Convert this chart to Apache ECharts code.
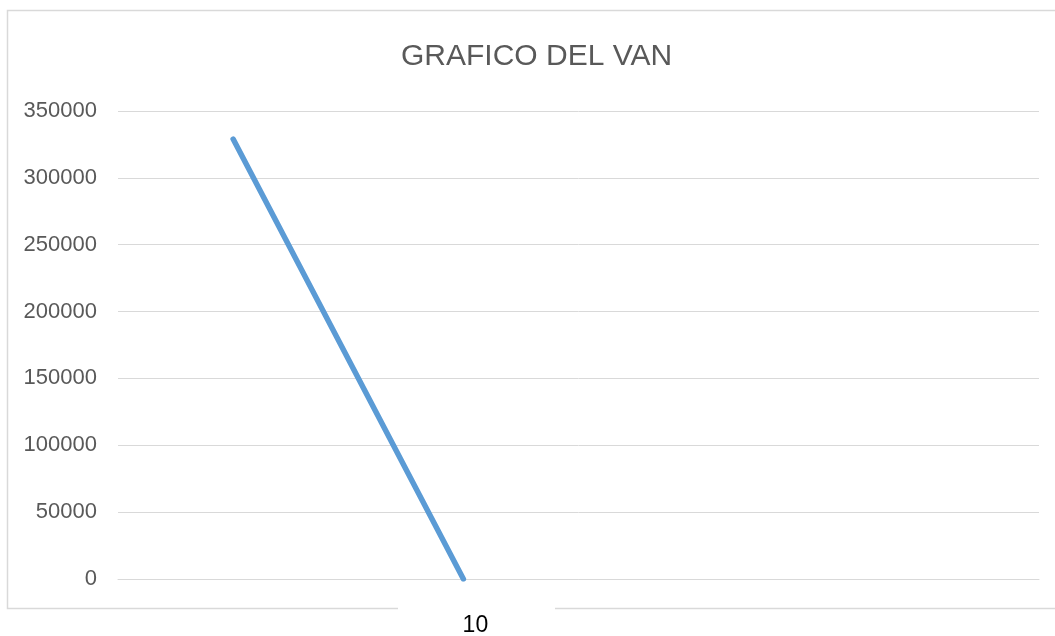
<!DOCTYPE html>
<html>
<head>
<meta charset="utf-8">
<script src="https://cdn.jsdelivr.net/npm/echarts@6/dist/echarts.min.js"></script>
<style>
  html, body { margin: 0; padding: 0; background: #fff; }
  #chart { width: 1055px; height: 636px; }
</style>
</head>
<body>
<div id="chart"></div>
<script>
// datos del grafico
const categorias = ['', '10', '', ''];
const valoresVan = [329000, 0, null, null];
const yMin = 0;
const yMax = 350000;
const yPaso = 50000;

const chart = echarts.init(document.getElementById('chart'));

const option = {
  animation: false,
  title: {
    text: 'GRAFICO DEL VAN',
    left: 396,
    top: 37,
    textStyle: {
      fontFamily: 'Liberation Sans',
      fontSize: 30,
      fontWeight: 'normal',
      color: '#595959'
    }
  },
  grid: {
    left: 118,
    right: 16,
    top: 111,
    bottom: 57,
    outerBoundsMode: 'none'
  },
  // marco del grafico, con el hueco bajo la etiqueta
  graphic: [
    {
      type: 'rect',
      z: -10,
      shape: { x: 7.5, y: 10.5, width: 1060, height: 598 },
      style: { fill: 'none', stroke: '#d9d9d9', lineWidth: 1.5 }
    },
    {
      type: 'rect',
      z: -5,
      shape: { x: 398, y: 600, width: 157, height: 16 },
      style: { fill: '#ffffff' }
    }
  ],
  xAxis: {
    type: 'category',
    data: categorias,
    boundaryGap: true,
    axisLine: { lineStyle: { color: '#d9d9d9', width: 1 } },
    axisTick: { show: false },
    axisLabel: {
      color: '#000000',
      fontFamily: 'Liberation Sans',
      fontSize: 23,
      margin: 35,
      padding: [0, 0, 0, 24],
      interval: 0
    }
  },
  yAxis: {
    type: 'value',
    min: yMin,
    max: yMax,
    interval: yPaso,
    axisLine: { show: false },
    axisTick: { show: false },
    axisLabel: {
      color: '#595959',
      fontFamily: 'Liberation Sans',
      fontSize: 22,
      margin: 21,
      formatter: (v) => String(v)
    },
    splitLine: { lineStyle: { color: '#d9d9d9', width: 1 } }
  },
  series: [{
    type: 'line',
    data: valoresVan,
    showSymbol: false,
    symbol: 'none',
    lineStyle: { color: '#5b9bd5', width: 5.5, cap: 'round' },
    itemStyle: { color: '#5b9bd5' }
  }]
};

chart.setOption(option);
</script>
</body>
</html>
